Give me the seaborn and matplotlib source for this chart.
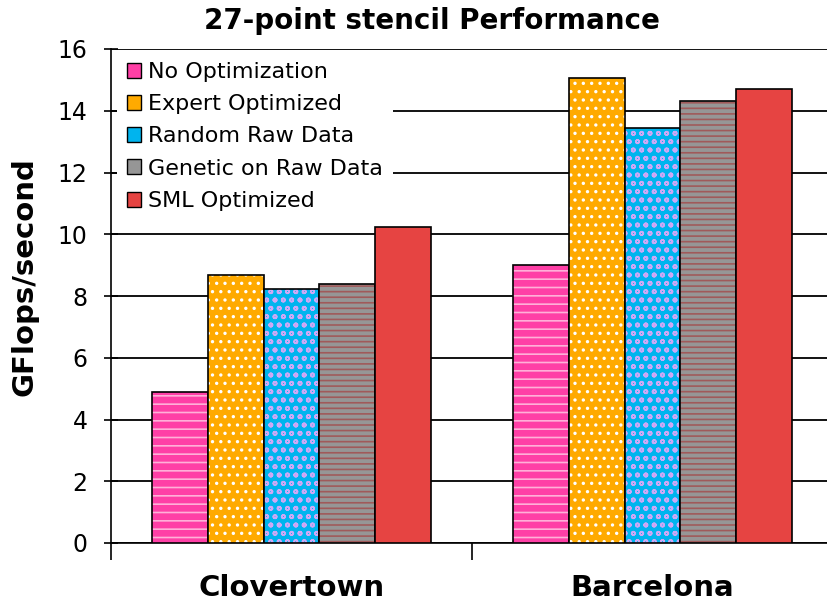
"""27-point stencil performance bar chart."""

import matplotlib

matplotlib.use("Agg")
import matplotlib.pyplot as plt
import pandas as pd
import seaborn as sns
from matplotlib.colors import to_rgba

machines = ["Clovertown", "Barcelona"]
series = [
    "No Optimization",
    "Expert Optimized",
    "Random Raw Data",
    "Genetic on Raw Data",
    "SML Optimized",
]
clovertown = [4.9, 8.67, 8.22, 8.38, 10.23]
barcelona = [9.0, 15.05, 13.43, 14.3, 14.69]
yticks = [0, 2, 4, 6, 8, 10, 12, 14, 16]

colors = ["#FF3FA6", "#FFAA00", "#00B4EE", "#969696", "#E64442"]
hatches = ["--", "..", "oo", "---", ""]
hatch_colors = ["#FFB0D8", "white", "#CFA8F5", "#A05A5A", "#E64442"]

sns.set_style("white")
plt.rcParams["font.family"] = ["DejaVu Sans"]
plt.rcParams["text.color"] = "black"
plt.rcParams["axes.labelcolor"] = "black"
plt.rcParams["xtick.color"] = "black"
plt.rcParams["ytick.color"] = "black"
plt.rcParams["hatch.linewidth"] = 1.2

df = pd.DataFrame(
    {
        "machine": [m for m in machines for _ in series],
        "series": series * len(machines),
        "value": clovertown + barcelona,
    }
)

fig = plt.figure(figsize=(8.28, 6.01), dpi=100)
ax = fig.add_axes([111 / 828, 58 / 601, 722 / 828, 494 / 601])

sns.barplot(
    data=df,
    x="machine",
    y="value",
    hue="series",
    hue_order=series,
    palette=colors,
    width=0.775,
    edgecolor="black",
    linewidth=1.2,
    saturation=1,
    ax=ax,
    legend=False,
    zorder=3,
)

# hatch patterns, each series has its own hatch colour
for container, hatch, hc in zip(ax.containers, hatches, hatch_colors):
    for bar in container:
        bar.set_hatch(hatch)
        bar._hatch_color = to_rgba(hc)

ax.set_ylim(0, 16)
ax.set_xlim(-0.5, 1.5)
ax.set_yticks(yticks)
ax.tick_params(axis="y", labelsize=17, length=10, width=1.2, pad=12,
               direction="inout", left=True)
ax.yaxis.grid(True, color="black", linewidth=1.3, zorder=0)
ax.set_axisbelow(True)

ax.set_xticks([0, 1])
ax.set_xticklabels(machines, fontsize=21, fontweight="bold")
ax.tick_params(axis="x", length=0, pad=22)
ax.set_xticks([-0.5, 0.5, 1.5], minor=True)
ax.tick_params(axis="x", which="minor", length=12, width=1.2, direction="out", bottom=True)

ax.set_xlabel("")
ax.set_ylabel("GFlops/second", fontsize=21, fontweight="bold")
ax.yaxis.set_label_coords(-(111 - 38) / 722, (543 - 277) / 494)
fig.text(432 / 828, 1 - 21 / 601, "27-point stencil Performance",
         fontsize=20, fontweight="bold", ha="center", va="center")

for side in ["top", "right"]:
    ax.spines[side].set_visible(False)
for side in ["left", "bottom"]:
    ax.spines[side].set_color("black")
    ax.spines[side].set_linewidth(1.2)

handles = [
    plt.Rectangle((0, 0), 1, 1, facecolor=c, edgecolor="black", linewidth=1)
    for c in colors
]
# white legend box hides the gridlines behind it
ax.legend(
    handles,
    series,
    loc="upper left",
    bbox_to_anchor=(6 / 722, 1 - 3 / 494),
    borderaxespad=0,
    frameon=True,
    facecolor="white",
    edgecolor="none",
    framealpha=1,
    fancybox=False,
    borderpad=0.45,
    fontsize=16,
    handlelength=0.65,
    handleheight=0.65,
    handletextpad=0.3,
    labelspacing=0.55,
)

fig.savefig("out.png", dpi=100)
